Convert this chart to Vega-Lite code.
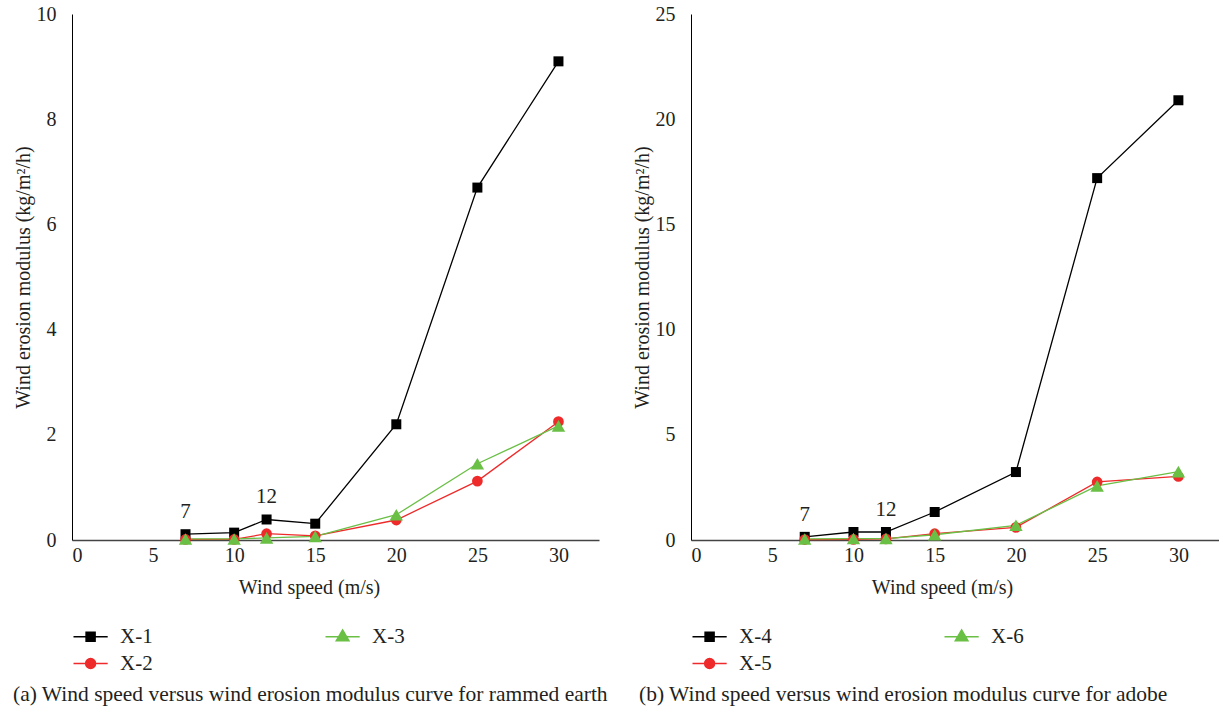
{
  "$schema": "https://vega.github.io/schema/vega-lite/v6.json",
  "background": "white",
  "padding": {"left": 13, "top": 4, "right": 0, "bottom": 0},
  "spacing": 18,
  "config": {
    "font": "Liberation Serif",
    "view": {"stroke": null},
    "axis": {"grid": false, "ticks": false, "domainColor": "#000000", "domainWidth": 1, "labelFontSize": 20, "titleFontSize": 20, "titleFontWeight": "normal", "labelColor": "#231f20", "titleColor": "#231f20", "labelFont": "Liberation Serif", "titleFont": "Liberation Serif"},
    "axisX": {"labelPadding": 5, "titlePadding": 12, "domainColor": "#444444", "domainWidth": 1.5},
    "axisY": {"labelPadding": 16, "titlePadding": 3},
    "legend": {"orient": "bottom", "direction": "horizontal", "columns": 2, "labelFontSize": 21, "labelColor": "#231f20", "labelFont": "Liberation Serif", "symbolSize": 324, "labelOffset": 27, "rowPadding": 5, "columnPadding": 169, "offset": 29, "title": null},
    "title": {"font": "Liberation Serif", "fontSize": 21.5, "fontWeight": "normal", "color": "#231f20", "orient": "bottom", "anchor": "start", "offset": 10}
  },
  "resolve": {"scale": {"color": "independent", "x": "independent", "y": "independent"}, "legend": {"color": "independent"}},
  "hconcat": [
    {
      "width": 527,
      "height": 526,
      "title": {"text": "(a)  Wind speed versus wind erosion modulus curve for rammed earth", "dx": 0},
      "data": {"values": [
        {"series": "X-1", "speed": 7, "modulus": 0.11, "label": "7"},
        {"series": "X-1", "speed": 10, "modulus": 0.14},
        {"series": "X-1", "speed": 12, "modulus": 0.39, "label": "12"},
        {"series": "X-1", "speed": 15, "modulus": 0.31},
        {"series": "X-1", "speed": 20, "modulus": 2.2},
        {"series": "X-1", "speed": 25, "modulus": 6.7},
        {"series": "X-1", "speed": 30, "modulus": 9.1},
        {"series": "X-2", "speed": 7, "modulus": 0.01},
        {"series": "X-2", "speed": 10, "modulus": 0.01},
        {"series": "X-2", "speed": 12, "modulus": 0.12},
        {"series": "X-2", "speed": 15, "modulus": 0.08},
        {"series": "X-2", "speed": 20, "modulus": 0.38},
        {"series": "X-2", "speed": 25, "modulus": 1.12},
        {"series": "X-2", "speed": 30, "modulus": 2.25},
        {"series": "X-3", "speed": 7, "modulus": 0.02},
        {"series": "X-3", "speed": 10, "modulus": 0.02},
        {"series": "X-3", "speed": 12, "modulus": 0.04},
        {"series": "X-3", "speed": 15, "modulus": 0.07},
        {"series": "X-3", "speed": 20, "modulus": 0.48},
        {"series": "X-3", "speed": 25, "modulus": 1.45},
        {"series": "X-3", "speed": 30, "modulus": 2.17}
      ]},
      "encoding": {
        "x": {"field": "speed", "type": "quantitative", "scale": {"domain": [0, 32.5], "nice": false}, "axis": {"values": [0, 5, 10, 15, 20, 25, 30], "title": "Wind speed (m/s)", "titleX": 237}},
        "y": {"field": "modulus", "type": "quantitative", "scale": {"domain": [0, 10], "nice": false}, "axis": {"values": [0, 2, 4, 6, 8, 10], "title": "Wind erosion modulus (kg/m²/h)"}}
      },
      "layer": [
        {"mark": {"type": "line", "strokeWidth": 1.3},
         "encoding": {"color": {"field": "series", "type": "nominal", "scale": {"domain": ["X-1", "X-3", "X-2"], "range": ["#000000", "#6abf45", "#ee2a2a"]},
             "legend": {"encode": {"symbols": {"update": {
               "shape": {"signal": "datum.value==='X-1'?'M-1,0H2.8M0.4,-0.5H1.4V0.5H0.4Z':datum.value==='X-2'?'M-1,0H2.8M1.45,0A0.55,0.55,0,1,1,0.35,0A0.55,0.55,0,1,1,1.45,0Z':'M-1,0H2.8M0.9,-0.75L1.6,0.45H0.2Z'"},
               "fill": {"signal": "datum.value==='X-1'?'#000000':datum.value==='X-2'?'#ee2a2a':'#6abf45'"},
               "stroke": {"signal": "datum.value==='X-1'?'#000000':datum.value==='X-2'?'#ee2a2a':'#6abf45'"},
               "strokeWidth": {"value": 1.5}, "opacity": {"value": 1}}}}}},
           "detail": {"field": "series"}}},
        {"mark": {"type": "point", "filled": true, "opacity": 1},
         "encoding": {
           "color": {"field": "series", "type": "nominal", "scale": {"domain": ["X-1", "X-3", "X-2"], "range": ["#000000", "#6abf45", "#ee2a2a"]},
             "legend": {"encode": {"symbols": {"update": {
               "shape": {"signal": "datum.value==='X-1'?'M-1,0H2.8M0.4,-0.5H1.4V0.5H0.4Z':datum.value==='X-2'?'M-1,0H2.8M1.45,0A0.55,0.55,0,1,1,0.35,0A0.55,0.55,0,1,1,1.45,0Z':'M-1,0H2.8M0.9,-0.75L1.6,0.45H0.2Z'"},
               "fill": {"signal": "datum.value==='X-1'?'#000000':datum.value==='X-2'?'#ee2a2a':'#6abf45'"},
               "stroke": {"signal": "datum.value==='X-1'?'#000000':datum.value==='X-2'?'#ee2a2a':'#6abf45'"},
               "strokeWidth": {"value": 1.5}, "opacity": {"value": 1}}}}}},
           "shape": {"condition": [{"test": "datum.series==='X-1'", "value": "square"}, {"test": "datum.series==='X-2'", "value": "circle"}], "value": "triangle-up"},
           "size": {"condition": [{"test": "datum.series==='X-1'", "value": 100}, {"test": "datum.series==='X-2'", "value": 115}], "value": 180},
           "order": {"field": "series"}
         }},
        {"transform": [{"filter": "isValid(datum.label)"}],
         "mark": {"type": "text", "dy": -22, "fontSize": 21, "color": "#231f20", "font": "Liberation Serif"},
         "encoding": {"text": {"field": "label"}}}
      ]
    },
    {
      "width": 528,
      "height": 526,
      "title": {"text": "(b)  Wind speed versus wind erosion modulus curve for adobe", "dx": 7},
      "data": {"values": [
        {"series": "X-4", "speed": 7, "modulus": 0.15, "label": "7"},
        {"series": "X-4", "speed": 10, "modulus": 0.38},
        {"series": "X-4", "speed": 12, "modulus": 0.38, "label": "12"},
        {"series": "X-4", "speed": 15, "modulus": 1.33},
        {"series": "X-4", "speed": 20, "modulus": 3.23},
        {"series": "X-4", "speed": 25, "modulus": 17.2},
        {"series": "X-4", "speed": 30, "modulus": 20.9},
        {"series": "X-5", "speed": 7, "modulus": 0.02},
        {"series": "X-5", "speed": 10, "modulus": 0.03},
        {"series": "X-5", "speed": 12, "modulus": 0.05},
        {"series": "X-5", "speed": 15, "modulus": 0.3},
        {"series": "X-5", "speed": 20, "modulus": 0.6},
        {"series": "X-5", "speed": 25, "modulus": 2.76},
        {"series": "X-5", "speed": 30, "modulus": 3.02},
        {"series": "X-6", "speed": 7, "modulus": 0.05},
        {"series": "X-6", "speed": 10, "modulus": 0.07},
        {"series": "X-6", "speed": 12, "modulus": 0.07},
        {"series": "X-6", "speed": 15, "modulus": 0.25},
        {"series": "X-6", "speed": 20, "modulus": 0.7},
        {"series": "X-6", "speed": 25, "modulus": 2.57},
        {"series": "X-6", "speed": 30, "modulus": 3.25}
      ]},
      "encoding": {
        "x": {"field": "speed", "type": "quantitative", "scale": {"domain": [0, 32.5], "nice": false}, "axis": {"values": [0, 5, 10, 15, 20, 25, 30], "title": "Wind speed (m/s)", "titleX": 251}},
        "y": {"field": "modulus", "type": "quantitative", "scale": {"domain": [0, 25], "nice": false}, "axis": {"values": [0, 5, 10, 15, 20, 25], "title": "Wind erosion modulus (kg/m²/h)"}}
      },
      "layer": [
        {"mark": {"type": "line", "strokeWidth": 1.3},
         "encoding": {"color": {"field": "series", "type": "nominal", "scale": {"domain": ["X-4", "X-6", "X-5"], "range": ["#000000", "#6abf45", "#ee2a2a"]},
             "legend": {"encode": {"symbols": {"update": {
               "shape": {"signal": "datum.value==='X-4'?'M-1,0H2.8M0.4,-0.5H1.4V0.5H0.4Z':datum.value==='X-5'?'M-1,0H2.8M1.45,0A0.55,0.55,0,1,1,0.35,0A0.55,0.55,0,1,1,1.45,0Z':'M-1,0H2.8M0.9,-0.75L1.6,0.45H0.2Z'"},
               "fill": {"signal": "datum.value==='X-4'?'#000000':datum.value==='X-5'?'#ee2a2a':'#6abf45'"},
               "stroke": {"signal": "datum.value==='X-4'?'#000000':datum.value==='X-5'?'#ee2a2a':'#6abf45'"},
               "strokeWidth": {"value": 1.5}, "opacity": {"value": 1}}}}}},
           "detail": {"field": "series"}}},
        {"mark": {"type": "point", "filled": true, "opacity": 1},
         "encoding": {
           "color": {"field": "series", "type": "nominal", "scale": {"domain": ["X-4", "X-6", "X-5"], "range": ["#000000", "#6abf45", "#ee2a2a"]},
             "legend": {"encode": {"symbols": {"update": {
               "shape": {"signal": "datum.value==='X-4'?'M-1,0H2.8M0.4,-0.5H1.4V0.5H0.4Z':datum.value==='X-5'?'M-1,0H2.8M1.45,0A0.55,0.55,0,1,1,0.35,0A0.55,0.55,0,1,1,1.45,0Z':'M-1,0H2.8M0.9,-0.75L1.6,0.45H0.2Z'"},
               "fill": {"signal": "datum.value==='X-4'?'#000000':datum.value==='X-5'?'#ee2a2a':'#6abf45'"},
               "stroke": {"signal": "datum.value==='X-4'?'#000000':datum.value==='X-5'?'#ee2a2a':'#6abf45'"},
               "strokeWidth": {"value": 1.5}, "opacity": {"value": 1}}}}}},
           "shape": {"condition": [{"test": "datum.series==='X-4'", "value": "square"}, {"test": "datum.series==='X-5'", "value": "circle"}], "value": "triangle-up"},
           "size": {"condition": [{"test": "datum.series==='X-4'", "value": 100}, {"test": "datum.series==='X-5'", "value": 115}], "value": 180},
           "order": {"field": "series"}
         }},
        {"transform": [{"filter": "isValid(datum.label)"}],
         "mark": {"type": "text", "dy": -22, "fontSize": 21, "color": "#231f20", "font": "Liberation Serif"},
         "encoding": {"text": {"field": "label"}}}
      ]
    }
  ]
}
